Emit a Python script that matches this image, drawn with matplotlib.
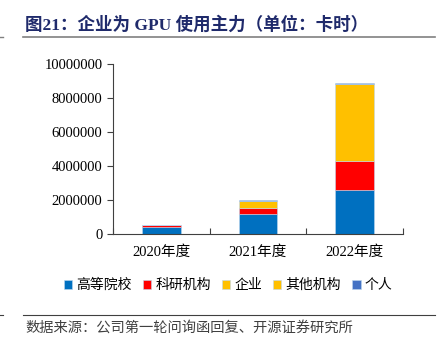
import matplotlib
matplotlib.use("Agg")
import matplotlib.pyplot as plt
import numpy as np

plt.rcParams['font.family'] = ['Liberation Serif', 'Noto Sans CJK SC', 'DejaVu Sans']

categories = ['2020年度', '2021年度', '2022年度']
series_names = ['高等院校', '科研机构', '企业', '其他机构', '个人']
univ = [410000, 1200000, 2570000]
research = [120000, 350000, 1720000]
enterprise = [15000, 370000, 4510000]
other = [5000, 30000, 20000]
individual = [5000, 30000, 70000]
colors = ['#0070C0', '#FF0000', '#FFC000', '#FFC000', '#4472C4']
yticks = [0, 2000000, 4000000, 6000000, 8000000, 10000000]

fig = plt.figure(figsize=(4.41, 3.53), dpi=100)
ax = fig.add_axes([113/441, 1-234/353, (403-113)/441, 170/353])

x = np.arange(len(categories))
bottom = np.zeros(len(categories))
for name, vals, c in zip(series_names, [univ, research, enterprise, other, individual], colors):
    ax.bar(x, vals, width=0.4, bottom=bottom, color=c, label=name,
           edgecolor='#BDD7EE', linewidth=0.4)
    bottom += np.array(vals)

ax.set_xlim(-0.5, 2.5)
ax.set_ylim(0, 10000000)
ax.set_yticks(yticks)
ax.set_yticklabels([str(v) for v in yticks], fontsize=10.5)
ax.set_xticks([-0.5, 0.5, 1.5, 2.5], minor=False)
ax.set_xticklabels([])
ax.set_xticks(x, minor=True)
ax.set_xticklabels(categories, minor=True, fontsize=10.5)
ax.tick_params(axis='x', which='minor', length=0, pad=8)
ax.tick_params(axis='x', which='major', length=4, direction='in', color='#404040')
ax.tick_params(axis='y', length=4, direction='out', color='#404040')
for s in ['top', 'right']:
    ax.spines[s].set_visible(False)
for s in ['left', 'bottom']:
    ax.spines[s].set_color('#404040')
    ax.spines[s].set_linewidth(0.8)

handles, labels = ax.get_legend_handles_labels()
fig.legend(handles, labels, loc='center', bbox_to_anchor=(228/441, 1-285/353), ncol=5,
           frameon=False, handlelength=0.6, handleheight=0.6,
           handletextpad=0.3, columnspacing=0.8,
           prop={'family': ['Noto Sans CJK SC'], 'size': 10})

# title
fig.text(25/441, 1-25/353, '图21：企业为 GPU 使用主力（单位：卡时）', fontsize=12.6,
         fontweight='bold', color='#1F2A6B', va='center', ha='left',
         family=['Liberation Serif', 'Noto Sans CJK SC'])
fig.add_artist(plt.Line2D([23/441, 435/441], [1-37/353, 1-37/353], color='#808080', lw=1.2))
fig.add_artist(plt.Line2D([0, 3/441], [1-37/353, 1-37/353], color='#808080', lw=1))
fig.add_artist(plt.Line2D([23/441, 435/441], [1-315/353, 1-315/353], color='#404040', lw=0.8))
fig.add_artist(plt.Line2D([0, 3/441], [1-315/353, 1-315/353], color='#404040', lw=0.8))
fig.text(25/441, 1-328/353, '数据来源：公司第一轮问询函回复、开源证券研究所', fontsize=10.3,
         color='#404040', va='center', ha='left', family=['Noto Sans CJK SC'])

fig.savefig('out.png', dpi=100)
